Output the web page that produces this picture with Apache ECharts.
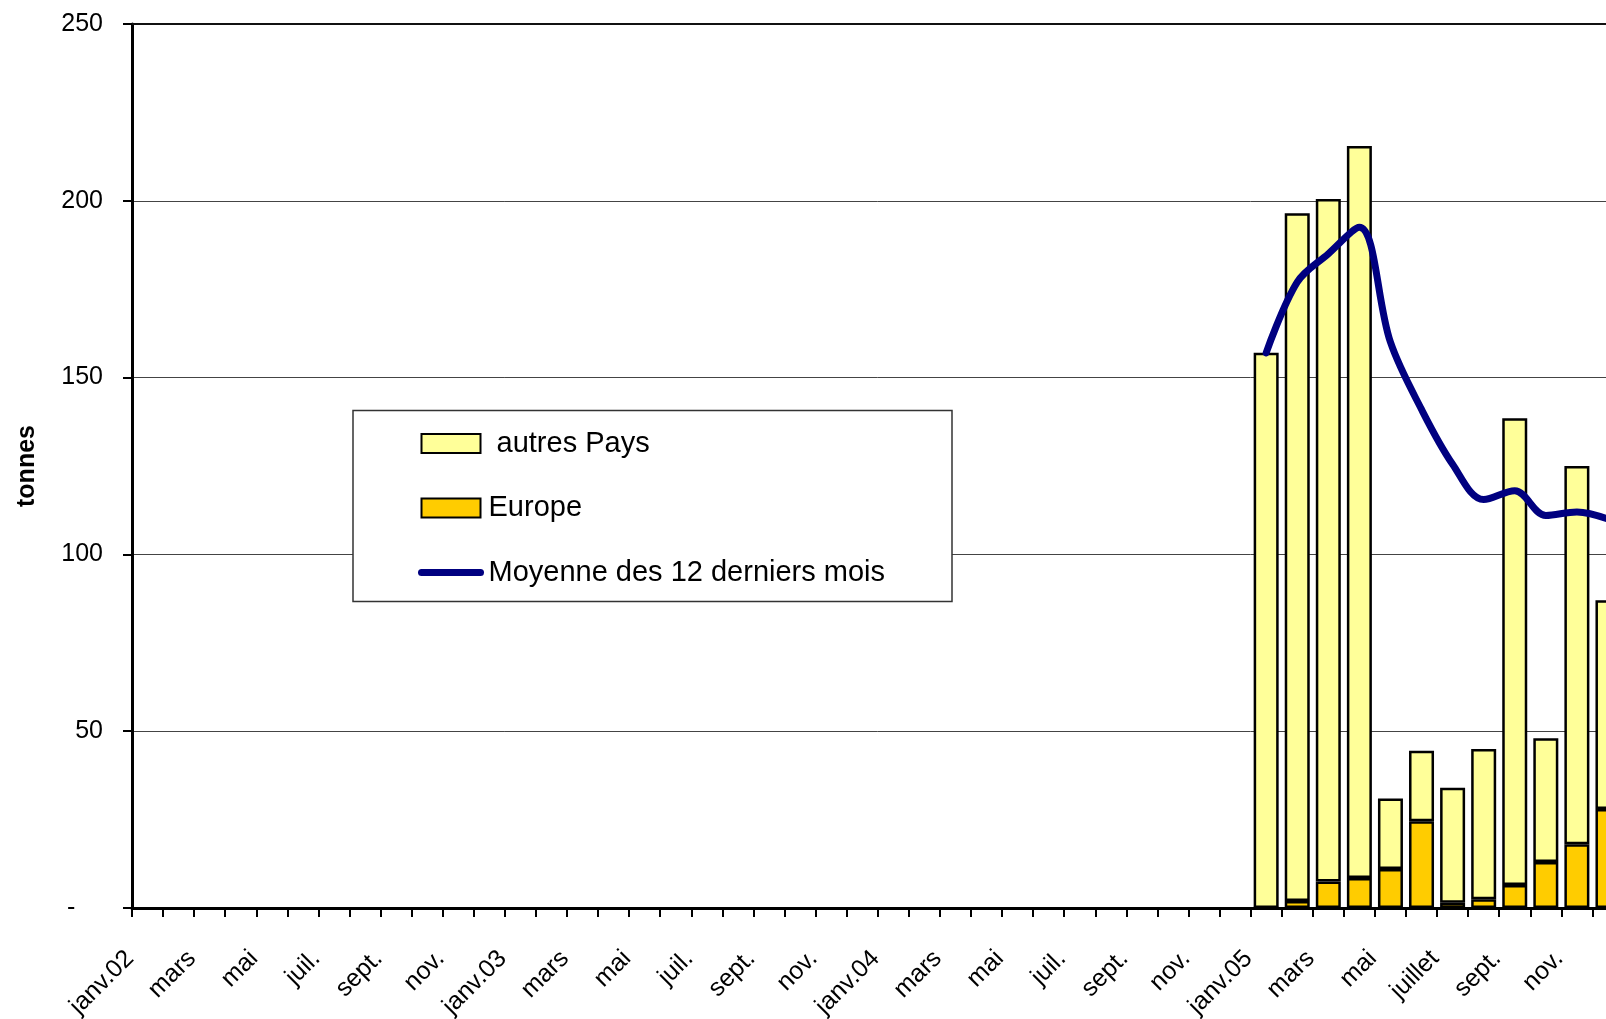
<!DOCTYPE html>
<html><head><meta charset="utf-8">
<script src="https://cdn.jsdelivr.net/npm/echarts@6/dist/echarts.min.js"></script>
<style>html,body{margin:0;padding:0;background:#fff;overflow:hidden;width:1606px;height:1019px}#c{width:1640px;height:1019px}</style>
</head><body><div id="c"></div>
<script>
const months2002 = ['janv.02','févr.','mars','avr.','mai','juin','juil.','août','sept.','oct.','nov.','déc.'];
const months2003 = ['janv.03','févr.','mars','avr.','mai','juin','juil.','août','sept.','oct.','nov.','déc.'];
const months2004 = ['janv.04','févr.','mars','avr.','mai','juin','juil.','août','sept.','oct.','nov.','déc.'];
const months2005 = ['janv.05','févr.','mars','avr.','mai','juin','juillet','août','sept.','oct.','nov.','déc.'];
const categories = [...months2002, ...months2003, ...months2004, ...months2005];

// tonnes, janv.05 .. déc.05 (no data before 2005)
const europe2005  = [0, 2, 7.5, 8.5, 11, 24.5, 1.5, 2.5, 6.5, 13, 18, 28];
const autres2005  = [157, 194.5, 193, 207, 20, 20, 32.5, 42.5, 132, 35, 107, 59];
const moyenne2005 = [157, 177, 185, 192.5, 160, 141, 125.5, 115.5, 118, 111, 112, 110];
const emptyBefore = new Array(36).fill(null);

const seriesNames = ['autres Pays', 'Europe', 'Moyenne des 12 derniers mois'];
const yMin = 0, yMax = 250, yStep = 50;

const FONT = "'Liberation Sans', Arial, sans-serif";

const chart = echarts.init(document.getElementById('c'), null, {renderer: 'canvas'});
chart.setOption({
  animation: false,
  backgroundColor: '#fff',
  textStyle: {fontFamily: FONT},
  grid: {left: 132, top: 24, width: 1491.5, height: 884, containLabel: false, outerBoundsMode: 'none'},
  graphic: [{
    type: 'rect', z: 3,
    shape: {x: 353, y: 410.5, width: 599, height: 191},
    style: {fill: '#fff', stroke: '#333', lineWidth: 1.5}
  }],
  legend: {
    orient: 'vertical', left: 418, top: 429, padding: 0, z: 5,
    itemWidth: 59, itemHeight: 19, itemGap: 35.5,
    data: [
      {name: seriesNames[0], icon: 'rect'},
      {name: seriesNames[1], icon: 'rect'},
      {name: seriesNames[2], itemStyle: {color: 'transparent', borderWidth: 0, opacity: 0},
        lineStyle: {width: 7, color: '#000080', cap: 'round'}}
    ],
    formatter: n => n === 'autres Pays' ? ' ' + n : n,
    textStyle: {fontFamily: FONT, fontSize: 29, color: '#000', padding: [0, 0, 0, 3]},
    selectedMode: false
  },
  xAxis: [{
    type: 'category', data: categories, boundaryGap: true,
    axisLine: {lineStyle: {color: '#000', width: 3}},
    axisTick: {show: true, interval: 0, length: 9, lineStyle: {color: '#000', width: 2}},
    axisLabel: {interval: 1, rotate: 45, margin: 29,
      formatter: v => v + '{s|}',
      rich: {s: {width: 25}},
      fontFamily: FONT, fontSize: 25, color: '#000'},
    splitLine: {show: false}
  }, {
    type: 'category', data: categories, position: 'top', gridIndex: 0,
    axisLine: {lineStyle: {color: '#111', width: 2}},
    axisTick: {show: false}, axisLabel: {show: false}, splitLine: {show: false}
  }],
  yAxis: {
    type: 'value', min: yMin, max: yMax, interval: yStep,
    name: 'tonnes', nameLocation: 'middle', nameGap: 92, nameRotate: 90,
    nameTextStyle: {fontFamily: FONT, fontSize: 25, fontWeight: 'bold', color: '#000'},
    axisLine: {show: true, lineStyle: {color: '#000', width: 3}},
    axisTick: {show: true, length: 9, lineStyle: {color: '#000', width: 2}},
    axisLabel: {margin: 29, fontFamily: FONT, fontSize: 25, color: '#000',
      formatter: v => v === 0 ? '-    ' : String(v)},
    splitLine: {show: true, lineStyle: {color: '#444', width: 1}}
  },
  series: [{
    name: 'Europe', type: 'bar', stack: 'total',
    data: [...emptyBefore, ...europe2005],
    barWidth: 25,
    itemStyle: {color: '#FFCC00', borderColor: '#000', borderWidth: 2.5}
  }, {
    name: 'autres Pays', type: 'bar', stack: 'total',
    data: [...emptyBefore, ...autres2005],
    barWidth: 25,
    itemStyle: {color: '#FFFF99', borderColor: '#000', borderWidth: 2.5}
  }, {
    name: 'Moyenne des 12 derniers mois', type: 'line',
    data: [...emptyBefore, ...moyenne2005],
    smooth: 0.35, symbol: 'none', connectNulls: false, z: 4,
    itemStyle: {color: '#000080'},
    lineStyle: {color: '#000080', width: 7, cap: 'round', join: 'round'}
  }]
});
</script></body></html>
